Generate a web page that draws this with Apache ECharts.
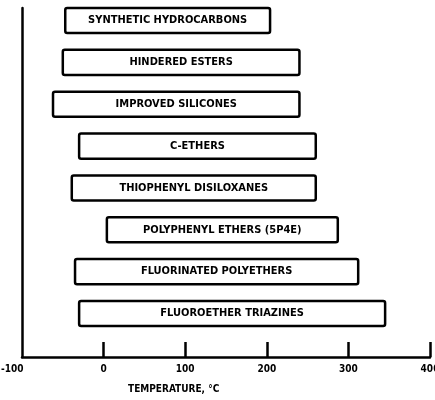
<!DOCTYPE html>
<html>
<head>
<meta charset="utf-8">
<script src="https://cdn.jsdelivr.net/npm/echarts@6/dist/echarts.min.js"></script>
<style>
  html, body { margin: 0; padding: 0; background: #fff; }
  #chart { width: 435px; height: 400px; }
</style>
</head>
<body>
<div id="chart"></div>
<script>
// fluid names, top to bottom
var categories = [
    'SYNTHETIC HYDROCARBONS',
    'HINDERED ESTERS',
    'IMPROVED SILICONES',
    'C-ETHERS',
    'THIOPHENYL DISILOXANES',
    'POLYPHENYL ETHERS (5P4E)',
    'FLUORINATED POLYETHERS',
    'FLUOROETHER TRIAZINES'
];
// usable temperature range, deg C
var lowTemp  = [-47, -50, -62, -30, -39,   4, -35, -30];
var highTemp = [204, 240, 240, 260, 260, 287, 312, 345];
var tempTicks = [-100, 0, 100, 200, 300, 400];

var FONT = '"DejaVu Sans Condensed", "DejaVu Sans", sans-serif';

var rows = [];
for (var i = 0; i < categories.length; i++) {
    rows.push([lowTemp[i], highTemp[i], i, categories[i]]);
}

function renderBar(params, api) {
    var p0 = api.coord([api.value(0), api.value(2)]);
    var p1 = api.coord([api.value(1), api.value(2)]);
    var h = api.size([0, 0.6])[1];
    return {
        type: 'group',
        children: [{
            type: 'rect',
            shape: { x: p0[0], y: p0[1] - h / 2, width: p1[0] - p0[0], height: h, r: 2 },
            style: { fill: '#fff', stroke: '#000', lineWidth: 2.5 }
        }, {
            type: 'text',
            x: (p0[0] + p1[0]) / 2,
            y: p0[1],
            style: {
                text: rows[params.dataIndex][3],
                fill: '#000',
                font: 'bold 11px ' + FONT,
                align: 'center',
                verticalAlign: 'middle'
            }
        }]
    };
}

var chart = echarts.init(document.getElementById('chart'));
chart.setOption({
    animation: false,
    backgroundColor: '#fff',
    grid: { left: 22, right: 5, top: 8, bottom: 43, containLabel: false, outerBoundsMode: 'none' },
    xAxis: {
        type: 'value',
        position: 'bottom',
        min: tempTicks[0],
        max: tempTicks[tempTicks.length - 1],
        interval: 100,
        axisLine: { show: true, onZero: false, lineStyle: { color: '#000', width: 2.5 } },
        axisTick: { show: true, inside: true, length: 15, lineStyle: { color: '#000', width: 2.5 } },
        axisLabel: {
            color: '#000', fontWeight: 'bold', fontSize: 10, fontFamily: FONT, margin: 7,
            showMinLabel: false
        },
        splitLine: { show: false }
    },
    yAxis: {
        type: 'value',
        inverse: true,
        min: -0.3,
        max: 8.04,
        axisLine: { show: true, onZero: false, lineStyle: { color: '#000', width: 2.5 } },
        axisTick: { show: false },
        axisLabel: { show: false },
        splitLine: { show: false }
    },
    graphic: [{
        // min tick label sits left of the axis corner in the original
        type: 'text',
        left: 1,
        top: 364,
        style: { text: '' + tempTicks[0], fill: '#000', font: 'bold 10px ' + FONT }
    }, {
        type: 'text',
        left: 128,
        top: 384,
        style: { text: 'TEMPERATURE, °C', fill: '#000', font: 'bold 10px ' + FONT }
    }],
    series: [{
        type: 'custom',
        renderItem: renderBar,
        encode: { x: [0, 1], y: 2 },
        data: rows
    }]
});
</script>
</body>
</html>
